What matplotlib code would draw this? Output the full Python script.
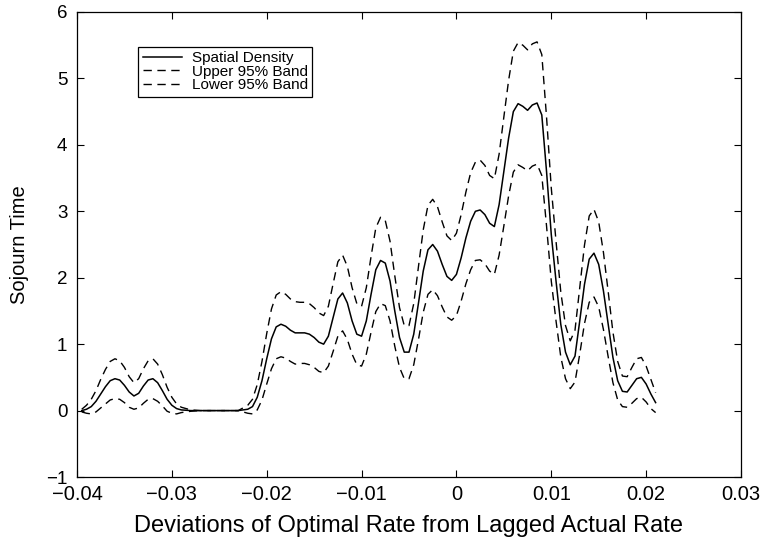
import matplotlib
matplotlib.use('Agg')
import matplotlib.pyplot as plt

plt.rcParams['font.family'] = ['Liberation Sans', 'DejaVu Sans']

# deviation grid (x) and kernel estimate with its 95% bands
dev = [-0.0395, -0.039, -0.0385, -0.038, -0.0375, -0.037, -0.0365, -0.036, -0.0355, -0.035,
       -0.0345, -0.034, -0.0335, -0.033, -0.0325, -0.032, -0.0315, -0.031, -0.0305, -0.030,
       -0.0295, -0.029, -0.028, -0.027, -0.026, -0.025, -0.024, -0.023, -0.022, -0.0215,
       -0.021, -0.0205, -0.020, -0.0195, -0.019, -0.0185, -0.018, -0.0175, -0.017, -0.0165,
       -0.016, -0.0155, -0.015, -0.0145, -0.014, -0.0135, -0.013, -0.0125, -0.012, -0.0115,
       -0.011, -0.0105, -0.010, -0.0095, -0.009, -0.0085, -0.008, -0.0075, -0.007, -0.0065,
       -0.006, -0.0055, -0.005, -0.0045, -0.004, -0.0035, -0.003, -0.0025, -0.002, -0.0015,
       -0.001, -0.0005, 0.0, 0.0005, 0.001, 0.0015, 0.002, 0.0025, 0.003, 0.0035,
       0.004, 0.0045, 0.005, 0.0055, 0.006, 0.0065, 0.007, 0.0075, 0.008, 0.0085,
       0.009, 0.0095, 0.010, 0.0105, 0.011, 0.0115, 0.012, 0.0125, 0.013, 0.0135,
       0.014, 0.0145, 0.015, 0.0155, 0.016, 0.0165, 0.017, 0.0175, 0.018, 0.0185,
       0.019, 0.0195, 0.020, 0.0205, 0.021]

density = [0.0, 0.02, 0.06, 0.14, 0.25, 0.36, 0.45, 0.48, 0.46, 0.38,
           0.28, 0.22, 0.26, 0.37, 0.46, 0.48, 0.42, 0.30, 0.17, 0.08,
           0.03, 0.01, 0.0, 0.0, 0.0, 0.0, 0.0, 0.0, 0.02, 0.06,
           0.20, 0.45, 0.78, 1.08, 1.26, 1.30, 1.27, 1.21, 1.17, 1.17,
           1.17, 1.15, 1.10, 1.03, 1.00, 1.12, 1.40, 1.68, 1.77, 1.62,
           1.35, 1.15, 1.12, 1.35, 1.75, 2.12, 2.26, 2.22, 1.95, 1.50,
           1.10, 0.88, 0.88, 1.15, 1.62, 2.10, 2.42, 2.50, 2.40, 2.20,
           2.02, 1.96, 2.05, 2.30, 2.60, 2.85, 3.00, 3.02, 2.95, 2.82,
           2.77, 3.10, 3.60, 4.10, 4.50, 4.62, 4.58, 4.52, 4.60, 4.63,
           4.45, 3.60, 2.65, 1.95, 1.30, 0.88, 0.69, 0.82, 1.35, 1.90,
           2.28, 2.37, 2.20, 1.80, 1.30, 0.80, 0.45, 0.29, 0.28, 0.38,
           0.48, 0.50, 0.40, 0.25, 0.12]

upper = [0.02, 0.08, 0.17, 0.30, 0.47, 0.62, 0.74, 0.78, 0.75, 0.65,
         0.51, 0.42, 0.48, 0.63, 0.75, 0.78, 0.70, 0.54, 0.35, 0.20,
         0.10, 0.05, 0.01, 0.0, 0.0, 0.0, 0.0, 0.0, 0.08, 0.17,
         0.39, 0.74, 1.16, 1.53, 1.74, 1.79, 1.75, 1.68, 1.64, 1.63,
         1.63, 1.61, 1.55, 1.47, 1.43, 1.57, 1.91, 2.24, 2.34, 2.17,
         1.85, 1.61, 1.57, 1.85, 2.32, 2.75, 2.91, 2.86, 2.55, 2.03,
         1.55, 1.28, 1.28, 1.61, 2.17, 2.72, 3.09, 3.18, 3.07, 2.84,
         2.63, 2.56, 2.67, 2.95, 3.29, 3.58, 3.74, 3.77, 3.69, 3.54,
         3.49, 3.86, 4.42, 4.97, 5.41, 5.54, 5.50, 5.43, 5.52, 5.55,
         5.36, 4.42, 3.35, 2.55, 1.79, 1.28, 1.05, 1.21, 1.85, 2.49,
         2.93, 3.03, 2.84, 2.38, 1.79, 1.18, 0.74, 0.52, 0.51, 0.65,
         0.78, 0.80, 0.67, 0.47, 0.27]

lower = [-0.02, -0.04, -0.05, -0.02, 0.04, 0.10, 0.16, 0.18, 0.17, 0.12,
         0.05, 0.02, 0.04, 0.11, 0.17, 0.18, 0.14, 0.07, -0.01, -0.04,
         -0.05, -0.03, -0.01, 0.0, 0.0, 0.0, 0.0, 0.0, -0.04, -0.05,
         0.01, 0.16, 0.40, 0.63, 0.78, 0.81, 0.79, 0.74, 0.70, 0.71,
         0.71, 0.69, 0.65, 0.59, 0.57, 0.67, 0.89, 1.12, 1.20, 1.07,
         0.85, 0.69, 0.67, 0.85, 1.18, 1.49, 1.61, 1.58, 1.35, 0.97,
         0.65, 0.48, 0.48, 0.69, 1.07, 1.48, 1.75, 1.82, 1.73, 1.56,
         1.41, 1.36, 1.43, 1.65, 1.91, 2.12, 2.26, 2.27, 2.21, 2.10,
         2.05, 2.34, 2.78, 3.23, 3.59, 3.70, 3.66, 3.61, 3.68, 3.71,
         3.54, 2.78, 1.95, 1.35, 0.81, 0.48, 0.33, 0.43, 0.85, 1.31,
         1.63, 1.71, 1.56, 1.22, 0.81, 0.42, 0.16, 0.06, 0.05, 0.11,
         0.18, 0.20, 0.13, 0.03, -0.03]

xticks = [-0.04, -0.03, -0.02, -0.01, 0, 0.01, 0.02, 0.03]
xticklabels = ['\u22120.04', '\u22120.03', '\u22120.02', '\u22120.01', '0', '0.01', '0.02', '0.03']
yticks = [-1, 0, 1, 2, 3, 4, 5, 6]
yticklabels = ['\u22121', '0', '1', '2', '3', '4', '5', '6']

fig = plt.figure(figsize=(7.61, 5.55), dpi=100)
ax = fig.add_axes([0.1012, 0.1405, 0.8725, 0.8379])

ax.plot(dev, density, color='black', lw=1.1, label='Spatial Density')
ax.plot(dev, upper, color='black', lw=1.0, dashes=(6, 4), label='Upper 95% Band')
ax.plot(dev, lower, color='black', lw=1.0, dashes=(6, 4), label='Lower 95% Band')

ax.set_xlim(-0.04, 0.03)
ax.set_ylim(-1, 6)
ax.set_xticks(xticks)
ax.set_xticklabels(xticklabels)
ax.set_yticks(yticks)
ax.set_yticklabels(yticklabels)
ax.tick_params(direction='in', length=5, width=0.8, top=True, right=True)
ax.tick_params(axis='x', labelsize=14.5, pad=6)
ax.tick_params(axis='y', labelsize=13.5, pad=7)
for s in ax.spines.values():
    s.set_linewidth(0.9)

ax.set_xlabel('Deviations of Optimal Rate from Lagged Actual Rate', fontsize=17, labelpad=8)
ax.set_ylabel('Sojourn Time', fontsize=14.5, labelpad=12)

leg = ax.legend(loc='upper left', bbox_to_anchor=(0.092, 0.925), fontsize=11,
                frameon=True, fancybox=False, edgecolor='black', framealpha=1,
                handlelength=2.6, handletextpad=0.6, labelspacing=-0.05,
                borderpad=0.3, borderaxespad=0)
leg.get_frame().set_linewidth(0.9)

fig.savefig('out.png', dpi=100)
